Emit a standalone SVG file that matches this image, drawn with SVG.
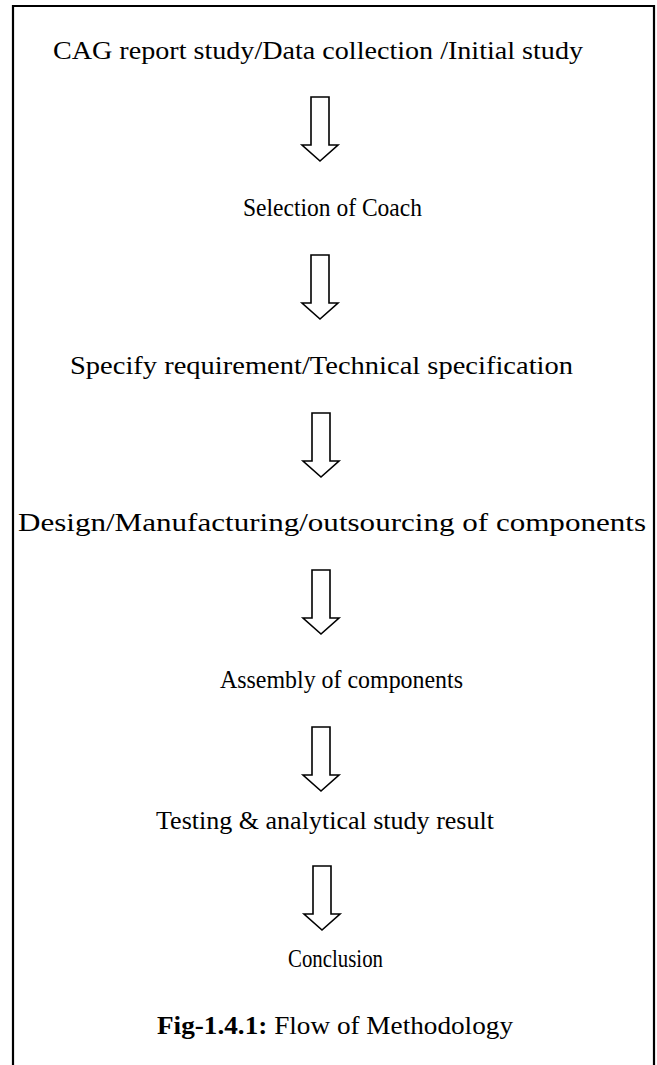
<svg xmlns="http://www.w3.org/2000/svg" width="657" height="1065" viewBox="0 0 657 1065">
<style>
.t{font-family:"Liberation Serif","DejaVu Serif",serif;font-size:24.5px;fill:#000;}
.b{font-weight:bold;}
.arr{fill:#fff;stroke:#000;stroke-width:1.6;stroke-linejoin:miter;}
.frame{fill:none;stroke:#000;stroke-width:2.2;}
</style>
<defs>
<path id="down" d="M-9,0 H9 V48 H18 L0,64 L-18,48 H-9 Z"/>
</defs>
<rect width="657" height="1065" fill="#fff"/>
<path class="frame" d="M13,1065 V6 H654 V1065"/>
<g id="connectors">
<use href="#down" class="arr" x="320" y="97"/>
<use href="#down" class="arr" x="320" y="255"/>
<use href="#down" class="arr" x="321" y="413"/>
<use href="#down" class="arr" x="321" y="570"/>
<use href="#down" class="arr" x="321" y="727"/>
<use href="#down" class="arr" x="322" y="866"/>
</g>
<g id="n1"><text class="t" x="53" y="59" textLength="530" lengthAdjust="spacingAndGlyphs">CAG report study/Data collection /Initial study</text></g>
<g id="n2"><text class="t" x="243" y="216" textLength="179" lengthAdjust="spacingAndGlyphs">Selection of Coach</text></g>
<g id="n3"><text class="t" x="70" y="374" textLength="503" lengthAdjust="spacingAndGlyphs">Specify requirement/Technical specification</text></g>
<g id="n4"><text class="t" x="18" y="531" textLength="628" lengthAdjust="spacingAndGlyphs">Design/Manufacturing/outsourcing of components</text></g>
<g id="n5"><text class="t" x="220" y="688" textLength="243" lengthAdjust="spacingAndGlyphs">Assembly of components</text></g>
<g id="n6"><text class="t" x="156" y="829" textLength="338" lengthAdjust="spacingAndGlyphs">Testing &amp; analytical study result</text></g>
<g id="n7"><text class="t" x="288" y="967" textLength="95" lengthAdjust="spacingAndGlyphs">Conclusion</text></g>
<g id="caption"><text class="t" x="157" y="1034" textLength="356" lengthAdjust="spacingAndGlyphs"><tspan class="b">Fig-1.4.1:</tspan> Flow of Methodology</text></g>
</svg>
